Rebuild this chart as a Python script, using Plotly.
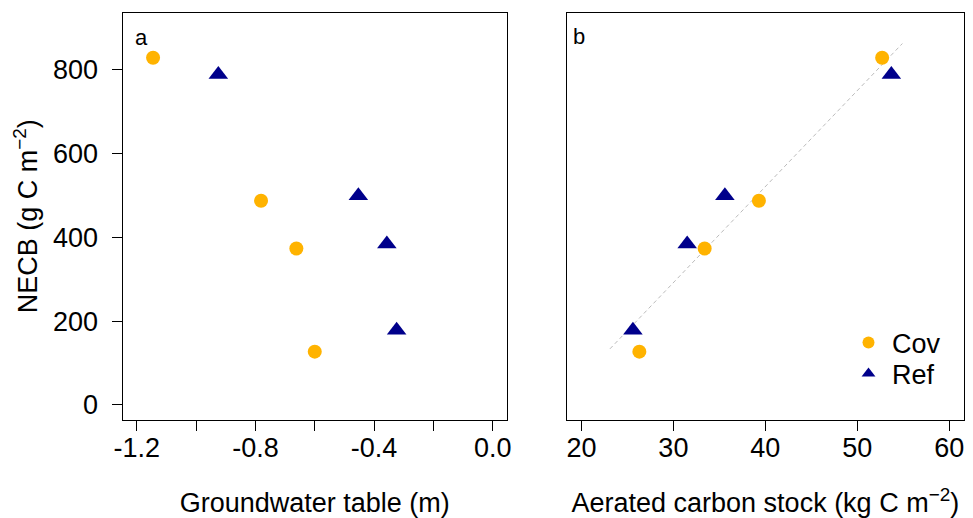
import numpy as np
import plotly.graph_objects as go

# ---- data ----
cov_gwt = [-1.145, -0.781, -0.662, -0.600]
cov_necb = [828, 487, 373, 127]
cov_acs = [52.7, 39.3, 33.4, 26.3]

ref_gwt = [-0.925, -0.453, -0.357, -0.324]
ref_necb = [788, 499, 384, 178]
ref_acs = [53.7, 35.6, 31.5, 25.6]

fit_x_ends = [23.1, 54.9]

x1_tickvals = [-1.2, -1.0, -0.8, -0.6, -0.4, -0.2, 0.0]
x1_ticktext = ["-1.2", "", "-0.8", "", "-0.4", "", "0.0"]
x2_tickvals = [20, 30, 40, 50, 60]
y_tickvals = [0, 200, 400, 600, 800]

COV_COLOR = "#FFB300"
REF_COLOR = "#00008B"
FONT = "Liberation Sans, Arial, Helvetica, sans-serif"
FS = 27

# regression across all points (panel b)
allx = np.array(cov_acs + ref_acs)
ally = np.array(cov_necb + ref_necb)
slope, intercept = np.polyfit(allx, ally, 1)
fit_y = [slope * v + intercept for v in fit_x_ends]

# full-window figure (page body margin removed in post_script)
OFF = 0
W, H = 973, 518


def px(x):
    return (x - OFF) / W


def py(y):
    return 1 - (y - OFF) / H


fig = go.Figure()

# panel a
fig.add_trace(go.Scatter(x=cov_gwt, y=cov_necb, mode="markers", name="Cov",
                         showlegend=False,
                         marker=dict(symbol="circle", size=14, color=COV_COLOR),
                         xaxis="x", yaxis="y"))
fig.add_trace(go.Scatter(x=ref_gwt, y=ref_necb, mode="markers", name="Ref",
                         showlegend=False,
                         marker=dict(symbol="triangle-up", size=17, color=REF_COLOR),
                         xaxis="x", yaxis="y"))

# panel b
fig.add_trace(go.Scatter(x=fit_x_ends, y=fit_y, mode="lines", showlegend=False,
                         line=dict(color="#BBBBBB", width=1, dash="4px,3px"),
                         xaxis="x2", yaxis="y2"))
fig.add_trace(go.Scatter(x=cov_acs, y=cov_necb, mode="markers", name="Cov",
                         legend="legend",
                         marker=dict(symbol="circle", size=14, color=COV_COLOR),
                         xaxis="x2", yaxis="y2"))
fig.add_trace(go.Scatter(x=ref_acs, y=ref_necb, mode="markers", name="Ref",
                         legend="legend2",
                         marker=dict(symbol="triangle-up", size=17, color=REF_COLOR),
                         xaxis="x2", yaxis="y2"))

ydom = [py(420), py(12.5)]

axis_common = dict(showline=True, linecolor="black", linewidth=1, mirror=True,
                   showgrid=False, zeroline=False, ticks="outside", ticklen=10,
                   tickwidth=1, tickcolor="black", automargin=False,
                   tickfont=dict(family=FONT, size=FS, color="black"))

legend_common = dict(xanchor="left", yanchor="middle", bgcolor="rgba(0,0,0,0)",
                     font=dict(size=FS, family=FONT, color="black"),
                     itemsizing="constant", itemwidth=37)

fig.update_layout(
    width=W, height=H,
    margin=dict(l=0, r=0, t=0, b=0, autoexpand=False),
    paper_bgcolor="white", plot_bgcolor="white",
    font=dict(family=FONT, color="black"),
    xaxis=dict(domain=[px(122.5), px(507)], range=[-1.248, 0.048],
               tickmode="array", tickvals=x1_tickvals, ticktext=x1_ticktext,
               anchor="y", ticklabelstandoff=-6,
               title=dict(text="Groundwater table (m)", font=dict(size=FS, family=FONT),
                          standoff=34),
               **axis_common),
    yaxis=dict(domain=ydom, range=[-36, 936], tickmode="array", tickvals=y_tickvals,
               anchor="x", ticklabelstandoff=8,
               title=dict(text="NECB (g C m<sup>−2</sup>)", font=dict(size=FS, family=FONT),
                          standoff=7),
               **axis_common),
    xaxis2=dict(domain=[px(566.7), px(964)], range=[18.4, 61.6],
                tickmode="array", tickvals=x2_tickvals, anchor="y2",
                ticklabelstandoff=-6,
                title=dict(text="Aerated carbon stock (kg C m<sup>−2</sup>)",
                           font=dict(size=FS, family=FONT), standoff=34),
                **axis_common),
    yaxis2=dict(domain=ydom, range=[-36, 936], anchor="x2", automargin=False,
                showline=True, linecolor="black", linewidth=1, mirror=True,
                showgrid=False, zeroline=False, showticklabels=False, ticks=""),
    legend=dict(x=px(845), y=py(343), **legend_common),
    legend2=dict(x=px(845), y=py(374), **legend_common),
    showlegend=True,
    annotations=[
        dict(text="a", x=px(133), y=py(38), xref="paper", yref="paper",
             xanchor="left", yanchor="middle", showarrow=False,
             font=dict(size=22, family=FONT, color="black")),
        dict(text="b", x=px(571), y=py(37), xref="paper", yref="paper",
             xanchor="left", yanchor="middle", showarrow=False,
             font=dict(size=22, family=FONT, color="black")),
    ],
)

fig.write_html(
    "out.html",
    config={"displayModeBar": False},
    post_script="document.body.style.margin='0';document.body.style.overflow='hidden';",
)
